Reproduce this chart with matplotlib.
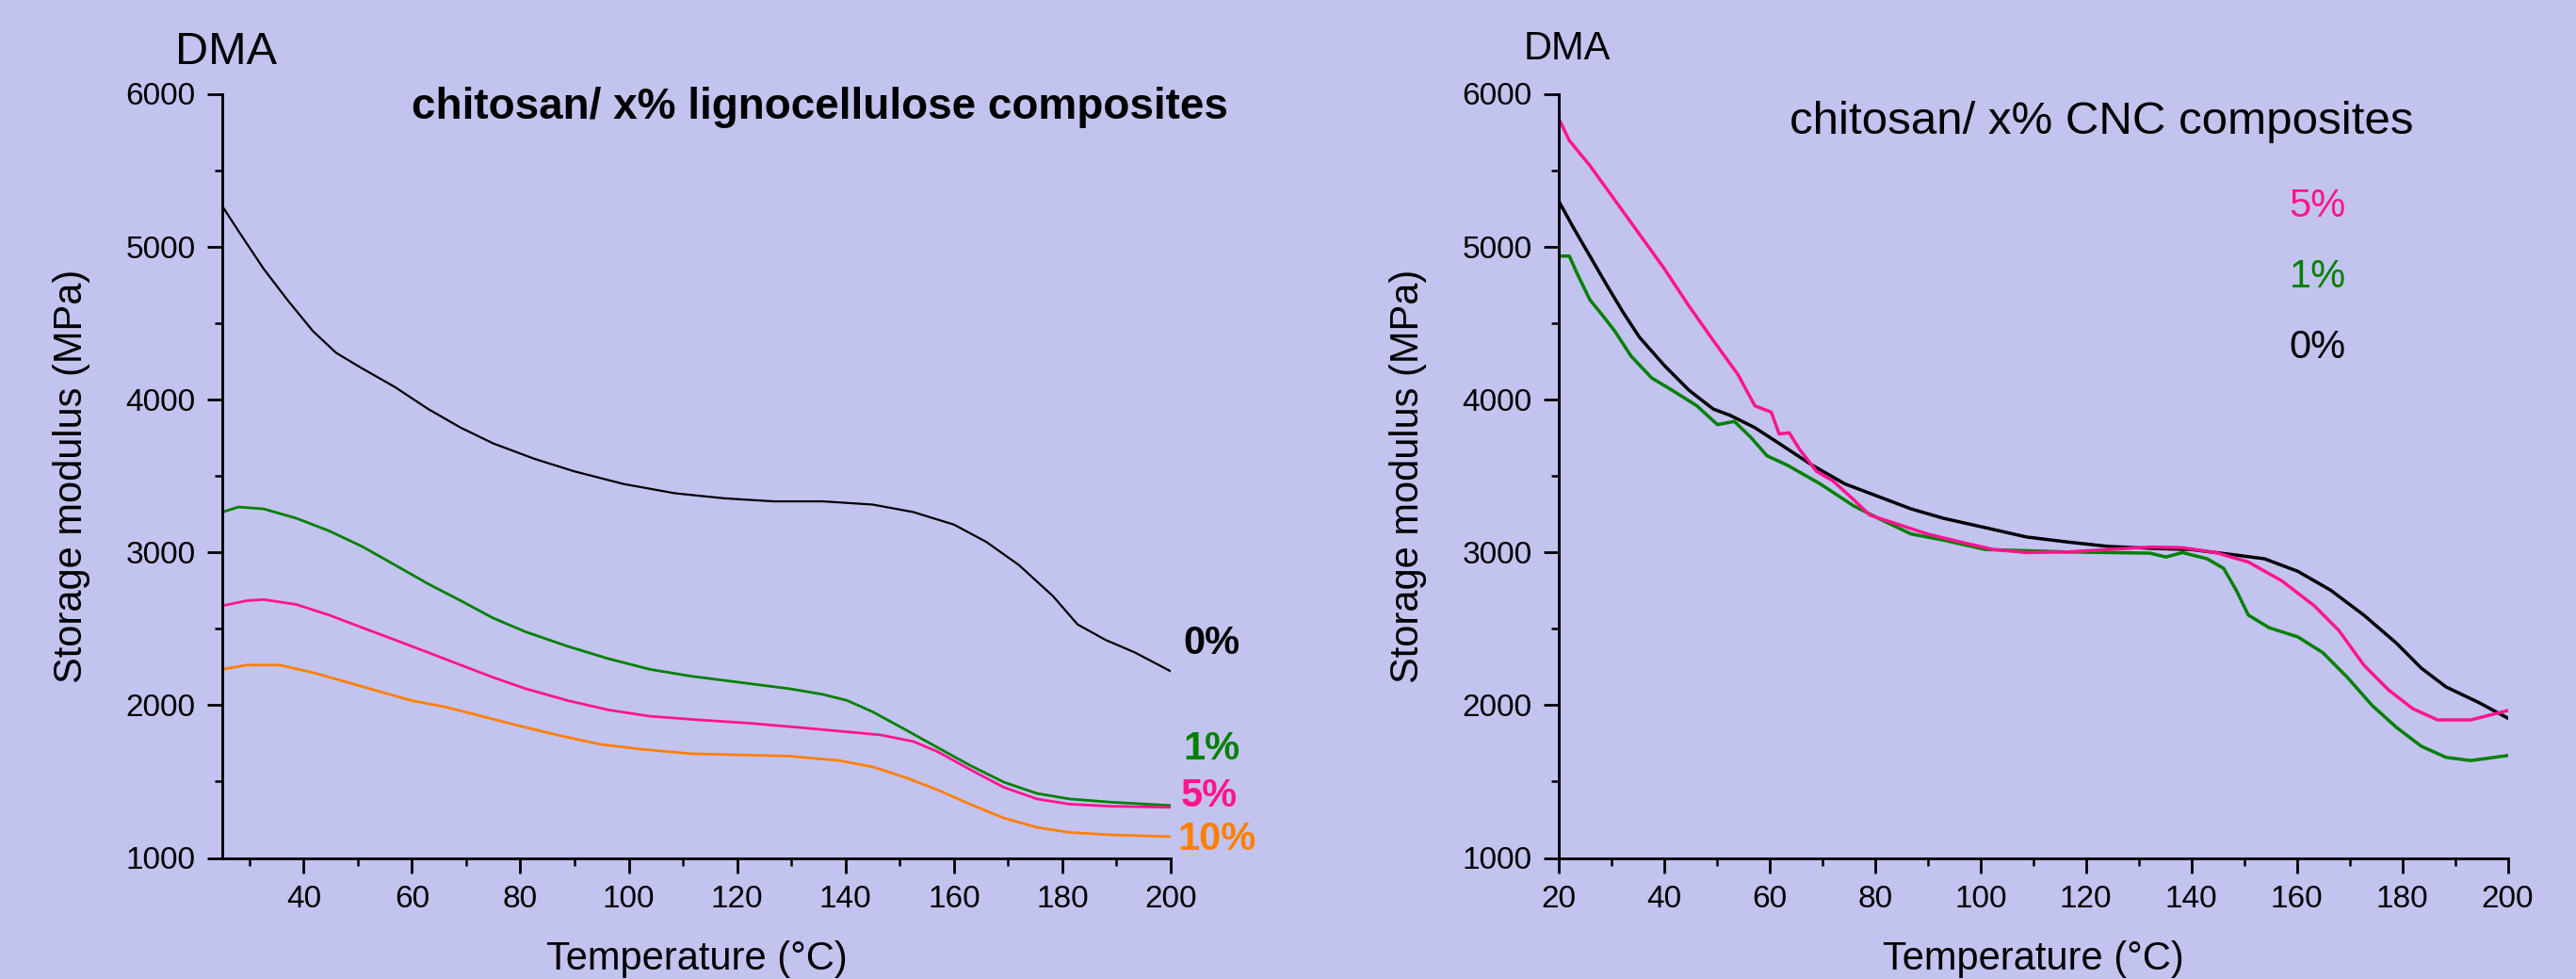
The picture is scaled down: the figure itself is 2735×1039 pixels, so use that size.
import numpy as np
import matplotlib
matplotlib.use("Agg")
import matplotlib.pyplot as plt
from matplotlib.ticker import MultipleLocator

plt.rcParams['font.family'] = ['Liberation Sans', 'DejaVu Sans']

# ---- left panel: chitosan / x% lignocellulose ----
lig_t0 = [25, 28, 32.6, 37, 41.7, 46, 50.8, 56.9, 63, 69, 75, 82.7, 90, 99, 108.5, 117.6,
          126.7, 135.8, 145, 152.5, 160, 166, 172, 178.3, 182.8, 188, 193.4, 200]
lig_v0 = [5265, 5101, 4856, 4652, 4448, 4305, 4203, 4080, 3937, 3815, 3712, 3610, 3529, 3447,
          3386, 3353, 3333, 3333, 3312, 3263, 3181, 3067, 2916, 2712, 2528, 2426, 2344, 2221]

lig_t1 = [25, 28, 32.6, 38.7, 44.7, 50.8, 56.9, 63, 69, 75, 81, 88.7, 96.3, 103.9, 111.5,
          120.6, 129.7, 135.8, 140.3, 145, 151, 157, 163, 169.2, 175.3, 181.3, 188.9, 200]
lig_v1 = [3263, 3296, 3284, 3222, 3140, 3038, 2916, 2793, 2683, 2569, 2479, 2385, 2303, 2234,
          2189, 2148, 2107, 2070, 2030, 1956, 1840, 1722, 1605, 1496, 1422, 1386, 1365, 1343]

lig_t5 = [25, 29.5, 32.6, 38.7, 44.7, 50.8, 56.9, 63, 69, 75, 81, 88.7, 96.3, 103.9, 113,
          122.1, 131.3, 140.3, 146.4, 152.5, 157, 163, 169.2, 175.3, 181.3, 188.9, 200]
lig_v5 = [2650, 2683, 2691, 2658, 2589, 2507, 2426, 2344, 2262, 2181, 2107, 2030, 1968, 1927,
          1903, 1882, 1854, 1825, 1805, 1762, 1695, 1578, 1462, 1386, 1352, 1338, 1331]

lig_t10 = [25, 29.5, 35.6, 41.7, 47.8, 53.8, 59.9, 66, 72, 79.6, 87.2, 94.8, 102.4, 111.5,
           120.6, 129.7, 138.8, 145, 151, 157, 163, 169.2, 175.3, 181.3, 188.9, 200]
lig_v10 = [2234, 2262, 2262, 2213, 2152, 2091, 2030, 1989, 1935, 1866, 1801, 1743, 1711, 1682,
           1674, 1666, 1637, 1596, 1527, 1445, 1351, 1261, 1200, 1167, 1151, 1139]

# ---- right panel: chitosan / x% CNC ----
cnc_t0 = [20, 22.8, 25.9, 29, 32.2, 35.3, 40, 44.7, 49.3, 52.5, 57.2, 61.8, 68.1, 74.3, 80.6,
          86.8, 93, 100.9, 108.7, 116.5, 124.3, 132.1, 139.9, 147.7, 153.9, 160.2, 166.4,
          172.7, 178.9, 183.6, 188.3, 194.5, 200]
cnc_v0 = [5297, 5122, 4938, 4754, 4570, 4407, 4223, 4060, 3937, 3896, 3815, 3712, 3569, 3447,
          3365, 3284, 3222, 3161, 3100, 3067, 3038, 3026, 3018, 2985, 2957, 2875, 2752, 2589,
          2405, 2242, 2119, 2017, 1915]

cnc_t5 = [20, 22, 25.9, 30.6, 35.3, 40, 44.7, 49.3, 54, 57.2, 60.3, 61.8, 63.7, 65.7, 68.9,
          72, 75.9, 79, 83.7, 89.9, 96.2, 102.4, 108.7, 116.5, 124.3, 132.1, 138.3, 144.6,
          150.8, 157.1, 163.3, 168, 172.7, 177.4, 182, 186.7, 193, 200]
cnc_v5 = [5837, 5694, 5530, 5306, 5081, 4856, 4611, 4386, 4162, 3958, 3917, 3774, 3782, 3672,
          3529, 3467, 3345, 3243, 3190, 3120, 3067, 3018, 2998, 3002, 3018, 3034, 3030, 2998,
          2936, 2814, 2650, 2487, 2262, 2099, 1976, 1903, 1903, 1964]

cnc_t1 = [20, 22, 23.6, 25.9, 28.3, 30.6, 33.7, 37.6, 41.5, 46.2, 50.1, 53.3, 56.4, 59.5,
          63.4, 69.6, 75.9, 80.6, 86.8, 93, 100.9, 108.7, 116.5, 124.3, 132.1, 135.2, 138.3,
          143, 146.1, 148.5, 150.8, 154.7, 160.2, 164.9, 169.6, 174.3, 178.9, 183.6, 188.3,
          193, 200]
cnc_v1 = [4938, 4938, 4815, 4652, 4550, 4448, 4284, 4141, 4060, 3958, 3835, 3856, 3753, 3631,
          3569, 3447, 3304, 3222, 3120, 3079, 3018, 3010, 3002, 2998, 2994, 2969, 2998, 2957,
          2895, 2752, 2589, 2507, 2446, 2344, 2181, 1997, 1854, 1731, 1658, 1637, 1670]

bg = '#c3c3ef'
black = '#000000'
green = '#008000'
pink = '#ff1490'
orange = '#ff8000'

W, H = 2735, 1039
fig = plt.figure(figsize=(W / 100, H / 100), dpi=100, facecolor=bg)

ax1 = fig.add_axes([236 / W, 1 - 910.5 / H, (1243 - 236) / W, 811 / H])
ax2 = fig.add_axes([1655 / W, 1 - 910.5 / H, (2662.5 - 1655) / W, 811 / H])

ax1.plot(lig_t0, lig_v0, color=black, lw=1.6)
ax1.plot(lig_t1, lig_v1, color=green, lw=2.0)
ax1.plot(lig_t5, lig_v5, color=pink, lw=2.0)
ax1.plot(lig_t10, lig_v10, color=orange, lw=2.0)

ax2.plot(cnc_t0, cnc_v0, color=black, lw=2.5)
ax2.plot(cnc_t1, cnc_v1, color=green, lw=2.5)
ax2.plot(cnc_t5, cnc_v5, color=pink, lw=2.5)

for ax, x0 in ((ax1, 25), (ax2, 20)):
    ax.set_facecolor(bg)
    ax.set_xlim(x0, 200)
    ax.set_ylim(1000, 6000)
    ax.spines['top'].set_visible(False)
    ax.spines['right'].set_visible(False)
    for s in ('left', 'bottom'):
        ax.spines[s].set_linewidth(2.1)
    ax.xaxis.set_major_locator(MultipleLocator(20))
    ax.xaxis.set_minor_locator(MultipleLocator(10))
    ax.yaxis.set_major_locator(MultipleLocator(1000))
    ax.yaxis.set_minor_locator(MultipleLocator(500))
    ax.tick_params(which='major', direction='out', length=11.5, width=2.0, labelsize=24)
    ax.tick_params(which='minor', direction='out', length=6, width=1.8)
    ax.tick_params(axis='x', which='major', pad=9)
    ax.tick_params(axis='y', which='major', pad=9)
    ax.set_xlabel('Temperature (°C)', fontsize=30, labelpad=20)
    ax.set_ylabel('Storage modulus (MPa)', fontsize=30, labelpad=27)

ax1.set_xticks([t for t in ax1.get_xticks() if 40 <= t <= 200])

# titles and labels
fig.text(186 / W, 1 - 68 / H, 'DMA', fontsize=35, ha='left', va='baseline')
fig.text(870 / W, 1 - 126 / H, 'chitosan/ x% lignocellulose composites', fontsize=33,
         fontweight='bold', ha='center', va='baseline')
fig.text(1618 / W, 1 - 63 / H, 'DMA', fontsize=30, ha='left', va='baseline')
fig.text(2231 / W, 1 - 142.5 / H, 'chitosan/ x% CNC composites', fontsize=35.5,
         ha='center', va='baseline')

ax1.text(202.3, 2405, '0%', color=black, fontsize=30, fontweight='bold', va='center',
         ha='left', clip_on=False)
ax1.text(202.3, 1713, '1%', color=green, fontsize=30, fontweight='bold', va='center',
         ha='left', clip_on=False)
ax1.text(201.8, 1404, '5%', color=pink, fontsize=30, fontweight='bold', va='center',
         ha='left', clip_on=False)
ax1.text(201.3, 1119, '10%', color=orange, fontsize=30, fontweight='bold', va='center',
         ha='left', clip_on=False)

ax2.text(158.6, 5266, '5%', color=pink, fontsize=30, va='center', ha='left')
ax2.text(158.6, 4803, '1%', color=green, fontsize=30, va='center', ha='left')
ax2.text(158.6, 4336, '0%', color=black, fontsize=30, va='center', ha='left')

fig.savefig('out.png', dpi=100, facecolor=bg)
